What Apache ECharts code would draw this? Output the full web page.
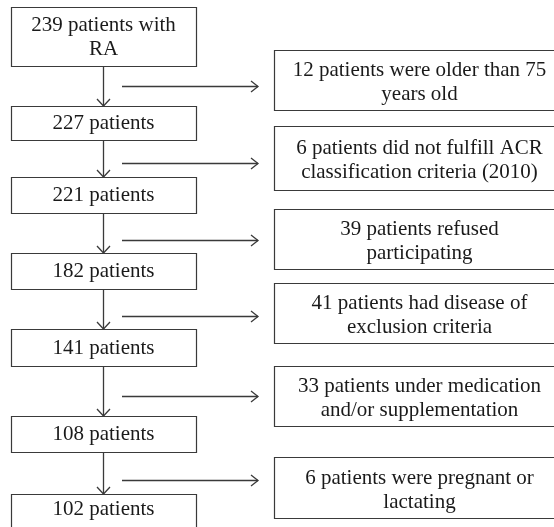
<!DOCTYPE html>
<html>
<head>
<meta charset="utf-8">
<script src="https://cdn.jsdelivr.net/npm/echarts@6/dist/echarts.min.js"></script>
<style>html,body{margin:0;padding:0;background:#fff}#c{width:554px;height:527px}</style>
</head>
<body>
<div id="c"></div>
<script>
// ---- data ----
const mainCounts = [239, 227, 221, 182, 141, 108, 102];
const mainSuffix = [' with\nRA', '', '', '', '', '', ''];
const exclCounts = [12, 6, 39, 41, 33, 6];
const exclReasons = [
  'were older than 75\nyears old',
  'did not fulfill ACR\nclassification criteria (2010)',
  'refused\nparticipating',
  'had disease of\nexclusion criteria',
  'under medication\nand/or supplementation',
  'were pregnant or\nlactating'
];
const mainLabels = mainCounts.map((c, i) => c + ' patients' + mainSuffix[i]);
const exclLabels = exclCounts.map((c, i) => c + ' patients ' + exclReasons[i]);

// ---- layout (positions in chart units) ----
const mainX = [11.5, 196.5];
const mainTop = [7.5, 106.5, 177.5, 253.5, 329.5, 416.5, 494.5];
const mainBottom = [66.5, 140.5, 213.5, 289.5, 366.5, 452.5, 530];
const exclX = [274.5, 565];
const exclTextX = 419.5;
const exclTop = [50.5, 126.5, 209.5, 283.5, 366.5, 457.5];
const exclBottom = [110.5, 190.5, 269.5, 343.5, 426.5, 518.5];
const arrowY = [86.5, 163.5, 240.5, 316.5, 396.5, 480.5];
const arrowX = [122, 258];
const spineX = 103.5;

const FAMILY = '"Liberation Serif", "DejaVu Serif", serif';
const LINE = '#3a3a3a';
const TXT = '#1a1a1a';

function boxItem(api, x0, x1, y0, y1, text, tx, dy) {
  const p0 = api.coord([x0, y0]);
  const p1 = api.coord([x1, y1]);
  const t = api.coord([tx, (y0 + y1) / 2]);
  return {
    type: 'group',
    children: [
      { type: 'rect', shape: { x: p0[0], y: p0[1], width: p1[0] - p0[0], height: p1[1] - p0[1] },
        style: { fill: '#fff', stroke: LINE, lineWidth: 1.2 } },
      { type: 'text', style: { text: text, x: t[0], y: t[1] + dy, align: 'center', verticalAlign: 'middle',
        fontFamily: FAMILY, fontSize: 21, font: '21px ' + FAMILY, lineHeight: 24, fill: TXT } }
    ]
  };
}

const chart = echarts.init(document.getElementById('c'), null, { renderer: 'canvas' });
chart.setOption({
  animation: false,
  backgroundColor: '#fff',
  textStyle: { fontFamily: FAMILY },
  grid: { left: 0, right: 0, top: 0, bottom: 0 },
  xAxis: { type: 'value', min: 0, max: 554, show: false },
  yAxis: { type: 'value', min: 0, max: 527, inverse: true, show: false },
  series: [
    { // vertical arrows between main boxes
      type: 'custom', silent: true,
      data: mainCounts.slice(1).map((c, i) => [i]),
      renderItem: function (params, api) {
        const i = api.value(0);
        const a = api.coord([spineX, mainBottom[i]]);
        const b = api.coord([spineX, mainTop[i + 1]]);
        return { type: 'group', children: [
          { type: 'line', shape: { x1: a[0], y1: a[1], x2: b[0], y2: b[1] }, style: { stroke: LINE, lineWidth: 1.3 } },
          { type: 'polyline', shape: { points: [[b[0] - 6.5, b[1] - 7.5], [b[0], b[1] - 0.5], [b[0] + 6.5, b[1] - 7.5]] },
            style: { stroke: LINE, lineWidth: 1.3, fill: null } }
        ] };
      }
    },
    { // horizontal arrows to exclusion boxes
      type: 'custom', silent: true,
      data: exclCounts.map((c, i) => [i]),
      renderItem: function (params, api) {
        const i = api.value(0);
        const a = api.coord([arrowX[0], arrowY[i]]);
        const b = api.coord([arrowX[1], arrowY[i]]);
        return { type: 'group', children: [
          { type: 'line', shape: { x1: a[0], y1: a[1], x2: b[0], y2: b[1] }, style: { stroke: LINE, lineWidth: 1.3 } },
          { type: 'polyline', shape: { points: [[b[0] - 7, b[1] - 5.5], [b[0], b[1]], [b[0] - 7, b[1] + 5.5]] },
            style: { stroke: LINE, lineWidth: 1.3, fill: null } }
        ] };
      }
    },
    { // main boxes
      type: 'custom', silent: true,
      data: mainLabels.map((l, i) => [i]),
      renderItem: function (params, api) {
        const i = api.value(0);
        return boxItem(api, mainX[0], mainX[1], mainTop[i], mainBottom[i], mainLabels[i], 103.5, i === 6 ? -3 : 0);
      }
    },
    { // exclusion boxes
      type: 'custom', silent: true,
      data: exclLabels.map((l, i) => [i]),
      renderItem: function (params, api) {
        const i = api.value(0);
        return boxItem(api, exclX[0], exclX[1], exclTop[i], exclBottom[i], exclLabels[i], exclTextX, 2);
      }
    }
  ]
});
</script>
</body>
</html>
